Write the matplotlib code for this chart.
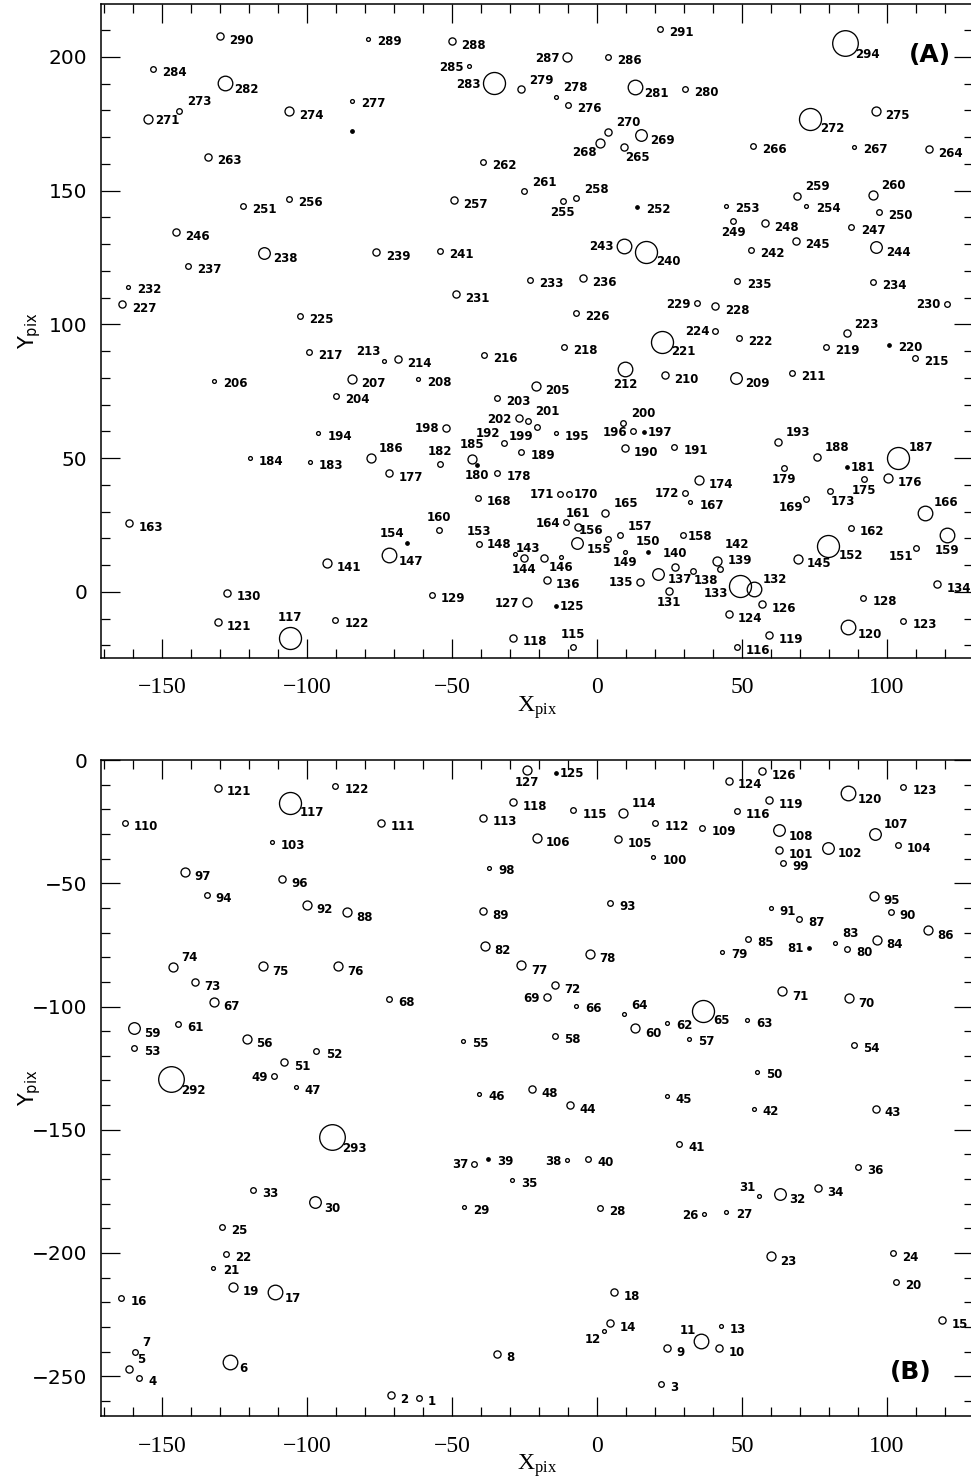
import matplotlib.pyplot as plt
from matplotlib.ticker import MultipleLocator

# ---- upper field (A): object number, position, size class ----
ids_a = list(range(115, 292)) + [294]
x_a = [
    -8.2, 48.2, -105.9, -28.9, 59.4, 86.7, -130.8, -90.3, 105.6, 45.5,
    -14.2, 57.1, -24.2, 91.8, -56.9, -127.5, 24.9, 54.1, 49.3, 117.3,
    14.8, -17.3, 21.1, 33.0, 42.4, 27.1, -92.9, 41.5, -18.2, -25.2,
    69.2, -12.4, -71.6, -28.3, 9.7, 17.7, 110.0, 79.8, -40.8, -65.3,
    -6.8, 3.7, 7.9, 29.6, 120.6, -54.5, -6.4, 87.6, -161.3, -10.7,
    2.9, 113.1, 32.2, -41.1, 72.3, -9.7, -12.8, 30.3, 80.3, 35.3,
    92.2, 100.4, -71.6, -34.4, 64.6, -41.5, 86.3, -54.1, -99.0, -119.7,
    -43.1, -78.0, 104.0, 75.8, -26.0, 9.6, 26.6, -32.0, 62.5, -96.1,
    -14.1, 12.5, 16.3, -52.1, -20.8, 9.1, -23.9, -27.0, -34.6, -90.1,
    -21.0, -132.1, -84.4, -61.6, 47.9, 23.4, 67.3, 9.7, -73.4, -68.7,
    109.7, -38.9, -99.3, -11.3, 79.0, 100.7, 22.3, 49.1, 86.1, 40.9,
    -102.4, -7.3, -163.6, 40.9, 34.4, 120.6, -48.7, -161.6, -23.1, 95.3,
    48.5, -4.9, -140.9, -114.8, -76.0, 16.9, -54.1, 53.1, 9.4, 96.4,
    68.6, -145.2, 87.8, 57.9, 47.0, 97.2, -122.0, 13.9, 44.5, 72.3,
    -11.8, -106.1, -49.3, -7.2, 68.9, 95.3, -25.1, -39.4, -134.2, 114.5,
    9.3, 53.9, 88.6, 1.0, 15.2, 3.7, -154.7, 73.4, -144.0, -106.1,
    96.1, -9.9, -84.6, -14.1, -26.0, 30.3, 13.1, -128.3, -35.3, -153.0,
    -44.1, 3.7, -10.2, -49.9, -78.9, -130.0, 21.7, 85.6,
]
y_a = [
    -20.4, -20.7, -17.3, -17.1, -16.1, -13.2, -11.2, -10.5, -10.8, -8.3,
    -5.1, -4.6, -3.9, -2.4, -1.1, -0.3, 0.5, 1.1, 2.2, 2.9,
    3.9, 4.4, 6.7, 8.0, 8.5, 9.5, 11.0, 11.7, 12.7, 12.8,
    12.4, 13.0, 13.8, 14.3, 15.0, 14.8, 16.6, 17.2, 18.1, 18.4,
    18.2, 19.7, 21.2, 21.1, 21.4, 23.2, 24.3, 23.8, 25.7, 26.1,
    29.6, 29.6, 33.5, 35.3, 34.8, 36.7, 36.7, 37.1, 37.6, 41.8,
    42.2, 42.7, 44.4, 44.4, 46.4, 47.4, 46.8, 48.0, 48.5, 50.0,
    49.7, 50.0, 50.0, 50.4, 52.4, 53.8, 54.3, 55.8, 56.2, 59.3,
    59.3, 60.1, 59.8, 61.4, 61.6, 63.3, 63.9, 65.0, 72.6, 73.3,
    77.0, 78.9, 79.6, 79.5, 80.1, 81.1, 81.8, 83.4, 86.5, 87.0,
    87.4, 88.7, 89.6, 91.6, 91.6, 92.5, 93.5, 94.8, 96.7, 97.6,
    103.3, 104.2, 107.5, 106.9, 107.9, 107.7, 111.4, 114.1, 116.6, 116.0,
    116.3, 117.3, 121.9, 126.8, 127.1, 127.0, 127.6, 127.9, 129.5, 129.1,
    131.3, 134.5, 136.3, 137.8, 138.6, 142.2, 144.3, 144.0, 144.3, 144.4,
    146.2, 146.8, 146.5, 147.2, 148.0, 148.5, 149.8, 160.6, 162.7, 165.6,
    166.5, 166.8, 166.5, 168.0, 170.8, 172.0, 176.8, 176.9, 179.9, 179.8,
    179.8, 181.9, 183.6, 185.2, 187.9, 187.9, 188.9, 190.4, 190.2, 195.6,
    196.5, 199.9, 199.9, 205.9, 206.7, 207.9, 210.4, 205.1,
]
cls_a = [
    2, 2, 7, 3, 3, 6, 3, 2, 2, 3,
    0, 3, 4, 2, 2, 3, 3, 6, 7, 3,
    3, 3, 5, 2, 2, 3, 4, 4, 3, 3,
    4, 1, 6, 1, 1, 0, 2, 7, 2, 0,
    5, 2, 2, 2, 6, 2, 3, 2, 3, 2,
    3, 6, 1, 2, 2, 2, 2, 2, 2, 4,
    2, 4, 3, 2, 2, 0, 0, 2, 1, 1,
    4, 4, 7, 3, 2, 3, 2, 2, 3, 1,
    1, 2, 0, 3, 2, 2, 2, 3, 2, 2,
    4, 1, 4, 1, 5, 3, 2, 6, 1, 3,
    2, 2, 2, 2, 2, 0, 7, 2, 3, 2,
    2, 2, 3, 3, 2, 2, 3, 1, 2, 2,
    2, 3, 2, 5, 3, 7, 2, 2, 6, 5,
    3, 3, 2, 3, 2, 2, 2, 0, 1, 1,
    2, 2, 3, 2, 3, 4, 2, 2, 3, 3,
    3, 2, 1, 4, 5, 3, 4, 7, 2, 4,
    4, 2, 1, 1, 3, 2, 6, 6, 7, 2,
    1, 2, 4, 3, 1, 3, 2, 8,
]
# unnumbered point near 277
extra_a = (-84.6, 172.3)

# ---- lower field (B) ----
ids_b = list(range(1, 115)) + [292, 293]
x_b = [
    -61.4, -70.9, 22.0, -157.9, -161.3, -126.6, -159.4, -34.6, 24.1, 42.1,
    36.0, 2.3, 42.7, 4.6, 119.1, -164.0, -111.1, 5.9, -125.4, 103.0,
    -132.2, -128.0, 59.9, 102.2, -129.3, 36.8, 44.7, 1.0, -45.8, -97.2,
    55.8, 63.1, -118.6, 76.3, -29.1, 90.1, -42.4, -10.4, -37.5, -3.1,
    28.5, 54.1, 96.1, -9.3, 24.1, -40.6, -103.9, -22.5, -111.4, 55.1,
    -107.8, -96.7, -159.5, 88.7, -46.1, -120.8, 31.8, -14.5, -159.5, 13.3,
    -144.4, 24.3, 51.7, 9.2, 36.7, -7.3, -132.0, -71.7, -17.3, 86.9,
    64.0, -14.5, -138.6, -146.3, -115.2, -89.4, -26.0, -2.3, 43.3, 86.1,
    73.1, -38.7, 82.0, 96.7, 52.0, 114.3, 69.7, -86.3, -39.2, 101.3,
    59.9, -100.1, 4.5, -134.6, 95.6, -108.6, -142.1, -37.1, 64.2, 19.4,
    62.9, 79.6, -112.1, 103.7, 7.4, -20.8, 96.0, 62.9, 36.4, -162.8,
    -74.3, 20.2, -39.2, 9.1, -147.0, -91.5,
]
y_b = [
    -258.8, -257.6, -253.2, -250.9, -247.0, -244.2, -240.0, -240.9, -238.6, -238.6,
    -235.7, -231.7, -229.8, -228.6, -227.4, -218.2, -215.8, -215.9, -213.8, -211.7,
    -206.0, -200.4, -201.4, -200.2, -189.3, -184.3, -183.3, -181.9, -181.4, -179.5,
    -176.9, -176.1, -174.6, -173.8, -170.5, -165.0, -163.7, -162.3, -161.9, -161.9,
    -155.6, -141.4, -141.4, -140.0, -136.4, -135.3, -132.8, -133.5, -128.2, -126.5,
    -122.6, -118.0, -116.8, -115.5, -113.8, -113.1, -113.2, -112.0, -108.6, -108.8,
    -107.0, -106.5, -105.5, -103.2, -101.9, -99.6, -98.1, -96.9, -96.3, -96.6,
    -93.8, -91.3, -90.0, -83.9, -83.6, -83.6, -83.2, -78.7, -77.8, -76.8,
    -76.2, -75.4, -74.1, -72.9, -72.6, -69.0, -64.4, -61.8, -61.3, -61.6,
    -60.2, -58.8, -57.9, -54.8, -55.1, -48.2, -45.3, -43.6, -41.9, -39.4,
    -36.5, -35.6, -33.4, -34.5, -32.2, -31.5, -30.0, -28.5, -27.5, -25.4,
    -25.4, -25.6, -23.4, -21.6, -129.6, -153.1,
]
cls_b = [
    2, 3, 2, 2, 3, 6, 2, 3, 3, 3,
    6, 1, 1, 3, 3, 2, 6, 3, 4, 2,
    1, 2, 4, 2, 2, 1, 1, 2, 1, 5,
    1, 5, 2, 3, 1, 2, 2, 1, 0, 2,
    2, 1, 3, 3, 1, 1, 1, 3, 2, 1,
    3, 2, 2, 2, 1, 4, 1, 2, 5, 4,
    2, 1, 1, 1, 7, 1, 4, 2, 3, 4,
    4, 3, 3, 4, 4, 4, 4, 4, 1, 2,
    0, 4, 1, 4, 2, 4, 2, 4, 3, 2,
    1, 4, 2, 2, 4, 3, 4, 1, 2, 1,
    3, 5, 1, 2, 3, 4, 5, 5, 2, 2,
    3, 2, 3, 4, 8, 8,
]

# circle radius (pixels) for each size class; class 0 is a filled dot
RADIUS_PX = [1.7, 1.9, 2.8, 3.6, 4.5, 5.8, 7.3, 11.0, 12.8]
PT = 0.72  # points per pixel at dpi 100

# label placement that differs from the default (lower right)
SIDE_A = {
    115: 'a', 117: 'a', 125: 'rt', 127: 'l', 131: 'b', 132: 'ar', 133: 'lb',
    135: 'l', 138: 'br', 139: 'ar', 140: 'a', 142: 'au', 143: 'al', 144: 'b',
    146: 'b', 148: 'al', 149: 'b', 150: 'a', 151: 'bl', 153: 'a', 154: 'al',
    156: 'al', 157: 'ar', 158: 'rt', 159: 'b', 160: 'a', 161: 'a', 164: 'l',
    165: 'ar', 166: 'ar', 169: 'bl', 170: 'rt', 171: 'l', 172: 'l', 173: 'br',
    175: 'b', 179: 'b', 180: 'b', 181: 'rt', 182: 'a', 185: 'a', 186: 'ar',
    187: 'ar', 188: 'ar', 192: 'al', 193: 'ar', 196: 'l', 197: 'rt', 198: 'l',
    199: 'bl', 200: 'ar', 201: 'ar', 202: 'l', 212: 'b', 213: 'al', 223: 'ar',
    224: 'l', 229: 'l', 230: 'l', 243: 'l', 249: 'b', 255: 'b', 258: 'ar',
    259: 'ar', 260: 'ar', 261: 'ar', 265: 'br', 268: 'bl', 270: 'ar',
    271: 'rt', 273: 'ar', 278: 'ar', 279: 'ar', 283: 'l', 285: 'l', 287: 'l',
}
SIDE_B = {
    5: 'ar', 7: 'ar', 11: 'al', 12: 'bl', 26: 'l', 31: 'al', 37: 'l', 38: 'l',
    49: 'l', 64: 'ar', 69: 'l', 74: 'ar', 81: 'l', 83: 'ar', 107: 'ar',
    114: 'ar', 125: 'rt', 127: 'b',
}


def label_offset(side, r):
    """Offset (px) and alignment of a number label around a circle of radius r."""
    if side == 'rt':
        return r + 2, -1, 'left', 'center'
    if side == 'l':
        return -(r + 3), -1, 'right', 'center'
    if side == 'lb':
        return -(r + 1), -7, 'right', 'center'
    if side == 'a':
        return 0, r + 3, 'center', 'bottom'
    if side == 'ar':
        return 7 + 0.3 * r, 2 + 0.2 * r, 'left', 'bottom'
    if side == 'au':
        return 6 + 0.3 * r, r + 5, 'left', 'bottom'
    if side == 'al':
        return -(3 + 0.3 * r), 2 + 0.2 * r, 'right', 'bottom'
    if side == 'b':
        return 0, -(r + 2), 'center', 'top'
    if side == 'bl':
        return -(2 + 0.3 * r), -(1 + 0.5 * r), 'right', 'top'
    if side == 'br':
        return 0.5 * r, -(r + 1), 'left', 'top'
    return 9 + 0.1 * r, -(1.5 + 0.75 * r), 'left', 'center'


def draw_field(ax, nums, xs, ys, classes, sides):
    for n, x, y, c in zip(nums, xs, ys, classes):
        r = RADIUS_PX[c]
        ax.plot(x, y, marker='o', ms=2 * r * PT, mec='black',
                mfc='black' if c == 0 else 'none', mew=0.95, ls='none')
        dx, dy, ha, va = label_offset(sides.get(n, 'r'), r)
        ax.annotate(str(n), (x, y), xytext=(dx * PT, dy * PT),
                    textcoords='offset points', ha=ha, va=va,
                    fontsize=8.5, fontweight='bold', family='DejaVu Sans',
                    annotation_clip=True)


def style_axes(ax):
    ax.set_xlim(-171, 129.7)
    ax.xaxis.set_major_locator(MultipleLocator(50))
    ax.xaxis.set_minor_locator(MultipleLocator(10))
    ax.yaxis.set_major_locator(MultipleLocator(50))
    ax.yaxis.set_minor_locator(MultipleLocator(10))
    ax.tick_params(which='both', direction='in', top=True, right=True, width=0.9)
    ax.tick_params(which='major', length=13.5)
    ax.tick_params(which='minor', length=6.5)
    ax.tick_params(axis='x', pad=14)
    ax.tick_params(axis='y', pad=10)
    for lab in ax.get_xticklabels():
        lab.set_fontfamily('Liberation Serif')
        lab.set_fontsize(17)
    for lab in ax.get_yticklabels():
        lab.set_fontfamily('DejaVu Sans')
        lab.set_fontsize(14.5)
    for sp in ax.spines.values():
        sp.set_linewidth(1.1)
    ax.set_xlabel(r'$\mathregular{X_{pix}}$', fontsize=17,
                  family='Liberation Serif', labelpad=-3)
    ax.set_ylabel(r'$\mathregular{Y_{pix}}$', fontsize=15, family='DejaVu Sans')
    ax.yaxis.set_label_coords(-0.066, 0.5)


fig = plt.figure(figsize=(9.71, 14.78), dpi=100)
ax_a = fig.add_axes([0.1040, 0.5548, 0.8980, 0.4425])
ax_b = fig.add_axes([0.1040, 0.0419, 0.8980, 0.4438])

ax_a.set_ylim(-24.7, 219.8)
ax_b.set_ylim(-266.2, 0)
style_axes(ax_a)
style_axes(ax_b)

draw_field(ax_a, ids_a, x_a, y_a, cls_a, SIDE_A)
ax_a.plot(*extra_a, marker='o', ms=2 * RADIUS_PX[0] * PT, color='black', ls='none')

# the strip just below Y=0 is covered by both fields
shared = [i for i, n in enumerate(ids_a) if n <= 127]
draw_field(ax_b,
           ids_b + [ids_a[i] for i in shared],
           x_b + [x_a[i] for i in shared],
           y_b + [y_a[i] for i in shared],
           cls_b + [cls_a[i] for i in shared],
           SIDE_B)

ax_a.text(0.951, 0.922, '(A)', transform=ax_a.transAxes, ha='center', va='center',
          fontsize=18, fontweight='bold', family='DejaVu Sans')
ax_b.text(0.929, 0.067, '(B)', transform=ax_b.transAxes, ha='center', va='center',
          fontsize=18, fontweight='bold', family='DejaVu Sans')

fig.savefig('out.png', dpi=100)
